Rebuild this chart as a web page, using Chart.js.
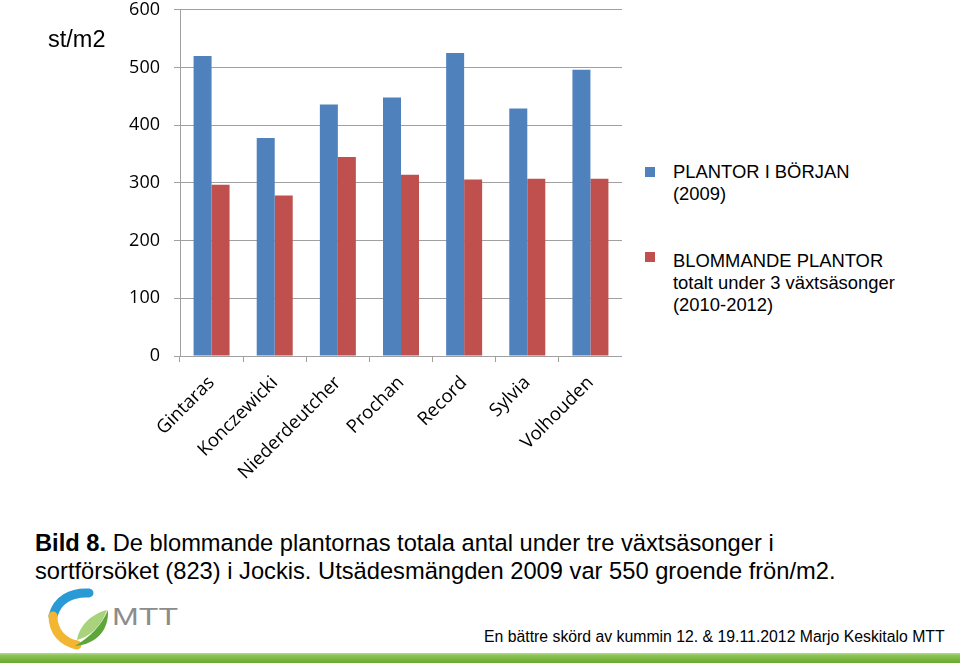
<!DOCTYPE html>
<html>
<head>
<meta charset="utf-8">
<script src="https://cdn.jsdelivr.net/npm/chart.js@4.4.1/dist/chart.umd.min.js"></script>
<style>
  body { margin: 0; width: 960px; height: 663px; background: #fff; position: relative; overflow: hidden; font-family: "Liberation Sans", Arial, sans-serif; }
  #wrap { position: absolute; left: 0; top: -15px; width: 622px; height: 505px; }
  .abs { position: absolute; white-space: nowrap; color: #000; }
  .sw { position: absolute; width: 10px; height: 10px; }
  .leg { font-size: 18.4px; line-height: 22px; }
  .cap { font-size: 23.7px; line-height: 28px; left: 35px; top: 529px; }
  .foot { font-size: 15.8px; left: 484px; top: 628px; }
  #green { position: absolute; left: 0; top: 653px; width: 960px; height: 10px; background: linear-gradient(#b5dc8a 0, #8cc455 25%, #6aa82e 100%); }
</style>
</head>
<body>
<div id="wrap"><canvas id="myChart"></canvas></div>

<div class="abs" style="left:48px; top:26px; font-size:23.5px;">st/m2</div>

<div class="sw" style="left:645px; top:167px; background:#4F81BD;"></div>
<div class="abs leg" style="left:673px; top:161px;">PLANTOR I BÖRJAN<br>(2009)</div>
<div class="sw" style="left:645px; top:252px; background:#C0504D;"></div>
<div class="abs leg" style="left:673px; top:250px;">BLOMMANDE PLANTOR<br>totalt under 3 växtsäsonger<br>(2010-2012)</div>

<div class="abs cap"><b>Bild 8.</b> De blommande plantornas totala antal under tre växtsäsonger i<br>sortförsöket (823) i Jockis. Utsädesmängden 2009 var 550 groende frön/m2.</div>

<svg style="position:absolute; left:45px; top:586px;" width="150" height="64">
  <path d="M44 7 C26 6 12 14 8 30" stroke="#2a9ad6" stroke-width="9" fill="none" stroke-linecap="round"/>
  <path d="M8 30 C8 46 18 56 32 59" stroke="#f2b632" stroke-width="9" fill="none" stroke-linecap="round"/>
  <path d="M30 60 C52 58 64 44 63 24 C56 40 46 50 30 60 Z" fill="#5fa63a"/>
  <path d="M32 54 C34 40 46 28 62 24 C56 40 46 50 32 54 Z" fill="#a8d27c"/>
  <text x="67" y="39" font-family="Liberation Sans, Arial" font-size="24" fill="#8c8c8c" textLength="66" lengthAdjust="spacingAndGlyphs">MTT</text>
</svg>

<div class="abs foot">En bättre skörd av kummin 12. &amp; 19.11.2012 Marjo Keskitalo MTT</div>
<div id="green"></div>

<script>
const categories = ['Gintaras', 'Konczewicki', 'Niederdeutcher', 'Prochan', 'Record', 'Sylvia', 'Volhouden'];
const plantorBorjan = [520, 378, 436, 448, 525, 429, 496];
const blommande = [297, 278, 345, 314, 306, 307, 307];
const yTicks = [0, 100, 200, 300, 400, 500, 600];

const axisGray = '#a0a0a0';

const ctx = document.getElementById('myChart').getContext('2d');
const myChart = new Chart(ctx, {
    type: 'bar',
    data: {
        labels: categories,
        datasets: [{
            label: 'PLANTOR I BÖRJAN (2009)',
            data: plantorBorjan,
            backgroundColor: '#4F81BD'
        }, {
            label: 'BLOMMANDE PLANTOR totalt under 3 växtsäsonger (2010-2012)',
            data: blommande,
            backgroundColor: '#C0504D'
        }]
    },
    options: {
        responsive: true,
        maintainAspectRatio: false,
        animation: false,
        layout: { padding: 0 },
        plugins: {
            legend: { display: false },
            tooltip: { enabled: false }
        },
        datasets: {
            bar: { categoryPercentage: 0.57, barPercentage: 1.0 }
        },
        scales: {
            x: {
                offset: true,
                grid: { offset: true, drawOnChartArea: false, drawTicks: true, tickLength: 6, color: axisGray },
                border: { color: axisGray },
                ticks: {
                    color: '#000',
                    font: { family: 'Open Sans', size: 18.5 },
                    maxRotation: 45,
                    minRotation: 45,
                    padding: 10,
                    autoSkip: false
                },
                afterFit: (scale) => { scale.height = 134; }
            },
            y: {
                min: 0,
                max: 600,
                afterBuildTicks: (scale) => { scale.ticks = yTicks.map(v => ({ value: v })); },
                grid: { color: axisGray, tickLength: 6 },
                border: { color: axisGray },
                ticks: {
                    color: '#000',
                    font: { family: 'Open Sans', size: 18 },
                    padding: 14
                },
                afterFit: (scale) => { scale.width = 180; }
            }
        }
    }
});
</script>
</body>
</html>
